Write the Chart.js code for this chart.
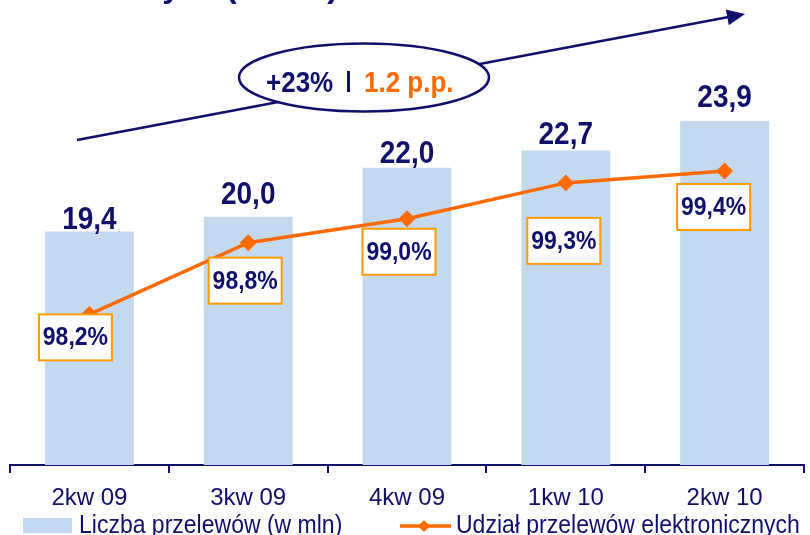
<!DOCTYPE html>
<html>
<head>
<meta charset="utf-8">
<script src="https://cdn.jsdelivr.net/npm/chart.js@4"></script>
<style>
  html, body { margin: 0; padding: 0; background: #fff; }
  #wrap { width: 810px; height: 535px; }
</style>
</head>
<body>
<div id="wrap"><canvas id="chart" width="810" height="535"></canvas></div>
<script>
// --- données ---
const categories = ['2kw 09', '3kw 09', '4kw 09', '1kw 10', '2kw 10'];
const transfers = [19.4, 20.0, 22.0, 22.7, 23.9];          // Liczba przelewów (w mln)
const electronicShare = [98.2, 98.8, 99.0, 99.3, 99.4];    // Udział przelewów elektronicznych (%)
const barLegend = 'Liczba przelewów (w mln)';
const lineLegend = 'Udział przelewów elektronicznych';
const growthText = '+23%';
const shareText = '1.2 p.p.';

// --- styles ---
const NAVY = '#10106b';
const ORANGE = '#ff6a00';
const BOX_ORANGE = '#ff9a00';
const BAR_BLUE = '#c5d9ee';
const FONT = '"Liberation Sans", Arial, sans-serif';
const barLabelGap = [3, 13, 5, 6, 14];
const boxShift = [[-14, 23], [-3, 38], [-8, 33], [-2, 58], [-11, 36]];

const fmt = v => v.toFixed(1).replace('.', ',');

// texte un peu étiré en hauteur, comme dans la diapo d'origine
function tallText(ctx, txt, x, y, sy) {
  ctx.save();
  ctx.translate(x, y);
  ctx.scale(1, sy);
  ctx.fillText(txt, 0, 0);
  ctx.restore();
}

const decor = {
  id: 'decor',
  afterDatasetsDraw(chart) {
    const ctx = chart.ctx;
    const bars = chart.getDatasetMeta(1).data;
    const pts = chart.getDatasetMeta(0).data;
    ctx.save();
    // valeurs au-dessus des barres
    ctx.fillStyle = NAVY;
    ctx.font = 'bold 28px ' + FONT;
    ctx.textAlign = 'center';
    ctx.textBaseline = 'alphabetic';
    bars.forEach((b, i) => {
      tallText(ctx, fmt(transfers[i]), b.x, b.y - barLabelGap[i], 1.15);
    });
    // étiquettes en pourcentage
    ctx.font = 'bold 23px ' + FONT;
    ctx.textBaseline = 'middle';
    pts.forEach((p, i) => {
      const cx = p.x + boxShift[i][0], cy = p.y + boxShift[i][1];
      const w = 73, h = 46;
      ctx.fillStyle = '#fff';
      ctx.fillRect(cx - w / 2, cy - h / 2, w, h);
      ctx.strokeStyle = BOX_ORANGE;
      ctx.lineWidth = 2;
      ctx.strokeRect(cx - w / 2, cy - h / 2, w, h);
      ctx.fillStyle = NAVY;
      tallText(ctx, fmt(electronicShare[i]) + '%', cx, cy + 1, 1.12);
    });
    ctx.restore();
  },
  afterDraw(chart) {
    const ctx = chart.ctx;
    ctx.save();
    // titre coupé en haut
    ctx.fillStyle = NAVY;
    ctx.font = 'bold 32px ' + FONT;
    ctx.textBaseline = 'alphabetic';
    ctx.textAlign = 'right';
    ctx.fillText('Przelewy', 180, -3);
    ctx.textAlign = 'left';
    ctx.fillText('(w mln)', 226, -3);

    // flèche
    const x0 = 77, y0 = 140, x1 = 745, y1 = 14;
    const ang = Math.atan2(y1 - y0, x1 - x0);
    ctx.strokeStyle = NAVY;
    ctx.lineWidth = 2.5;
    ctx.beginPath();
    ctx.moveTo(x0, y0);
    ctx.lineTo(x1 - 14 * Math.cos(ang), y1 - 14 * Math.sin(ang));
    ctx.stroke();
    ctx.fillStyle = NAVY;
    ctx.beginPath();
    ctx.moveTo(x1, y1);
    ctx.lineTo(x1 - 18 * Math.cos(ang) + 8 * Math.sin(ang), y1 - 18 * Math.sin(ang) - 8 * Math.cos(ang));
    ctx.lineTo(x1 - 18 * Math.cos(ang) - 8 * Math.sin(ang), y1 - 18 * Math.sin(ang) + 8 * Math.cos(ang));
    ctx.closePath();
    ctx.fill();

    // ellipse
    ctx.beginPath();
    ctx.ellipse(364, 77.5, 125, 34, 0, 0, Math.PI * 2);
    ctx.fillStyle = '#fff';
    ctx.fill();
    ctx.lineWidth = 2.5;
    ctx.strokeStyle = NAVY;
    ctx.stroke();
    ctx.font = 'bold 26px ' + FONT;
    ctx.textAlign = 'left';
    ctx.fillStyle = NAVY;
    tallText(ctx, growthText, 266, 92, 1.1);
    ctx.fillRect(347, 71, 3, 21);
    ctx.fillStyle = ORANGE;
    tallText(ctx, shareText, 364, 92, 1.1);

    // légende
    ctx.fillStyle = BAR_BLUE;
    ctx.fillRect(23, 518, 49, 15);
    ctx.font = '23px ' + FONT;
    ctx.fillStyle = NAVY;
    tallText(ctx, barLegend, 79, 533, 1.1);
    ctx.strokeStyle = ORANGE;
    ctx.lineWidth = 3.5;
    ctx.beginPath();
    ctx.moveTo(400, 526);
    ctx.lineTo(451, 526);
    ctx.stroke();
    ctx.fillStyle = ORANGE;
    ctx.beginPath();
    ctx.moveTo(424, 520); ctx.lineTo(430, 526); ctx.lineTo(424, 532); ctx.lineTo(418, 526);
    ctx.closePath();
    ctx.fill();
    ctx.fillStyle = NAVY;
    tallText(ctx, lineLegend, 456, 533, 1.1);
    ctx.restore();
  }
};

const ctx = document.getElementById('chart').getContext('2d');
new Chart(ctx, {
  type: 'bar',
  data: {
    labels: categories,
    datasets: [{
      type: 'line',
      label: lineLegend,
      data: electronicShare,
      yAxisID: 'y2',
      borderColor: ORANGE,
      borderWidth: 3.5,
      pointStyle: 'rectRot',
      pointRadius: 6,
      pointBackgroundColor: ORANGE,
      pointBorderColor: ORANGE,
      tension: 0,
      order: 0
    }, {
      type: 'bar',
      label: barLegend,
      data: transfers,
      yAxisID: 'y',
      backgroundColor: BAR_BLUE,
      categoryPercentage: 1,
      barPercentage: 0.56,
      order: 1
    }]
  },
  options: {
    responsive: false,
    animation: false,
    layout: { autoPadding: false, padding: { left: 10, right: 6, top: 0, bottom: 11.2 } },
    plugins: { legend: { display: false }, tooltip: { enabled: false } },
    scales: {
      x: {
        offset: true,
        grid: { offset: true, drawOnChartArea: false, color: NAVY, lineWidth: 2, tickLength: 8 },
        border: { color: NAVY, width: 2 },
        ticks: { color: NAVY, padding: 11, font: { family: FONT, size: 24 } }
      },
      y: { display: false, min: 9.89, max: 28.83 },
      y2: { display: false, min: 96.94, max: 100.83 }
    }
  },
  plugins: [decor]
});
</script>
</body>
</html>
